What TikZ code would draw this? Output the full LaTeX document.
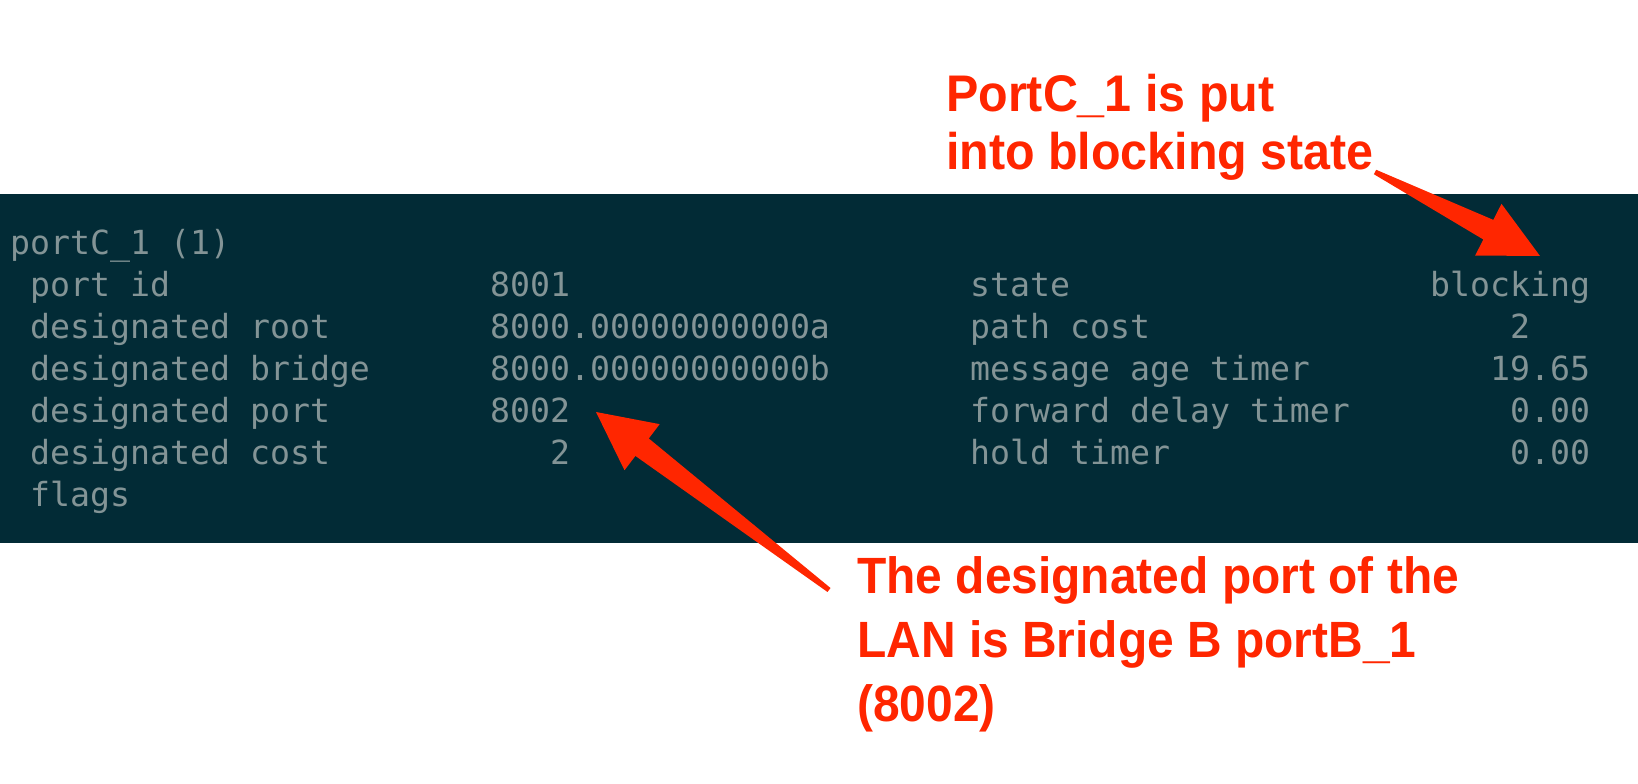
\documentclass[tikz,border=0pt]{standalone}
\usepackage{fontspec}
\usetikzlibrary{calc}
\newfontfamily\termfont{DejaVu Sans Mono}
\newfontfamily\notefont{Liberation Sans}[FakeStretch=0.94]
\definecolor{termbg}{HTML}{022B36}
\definecolor{termfg}{HTML}{839496}
\definecolor{notered}{HTML}{FF2600}

% filled, tapered arrow from #1 to #2
\newcommand{\skitcharrow}[2]{%
  \coordinate (hb) at ($(#2)!58pt!(#1)$);
  \fill[notered] ($(#1)!2.5pt!90:(#2)$) -- ($(hb)!11pt!90:(#2)$) -- ($(hb)!29pt!90:(#2)$)
    -- (#2) -- ($(hb)!29pt!-90:(#2)$) -- ($(hb)!11pt!-90:(#2)$) -- ($(#1)!2.5pt!-90:(#2)$) -- cycle;
}

\begin{document}
\begin{tikzpicture}[x=1pt, y=1pt,
    term/.style = {anchor=base west, inner sep=0pt, text=termfg,
      font=\termfont\fontsize{33.2}{40}\selectfont},
    note/.style = {anchor=north west, inner sep=0pt, align=left, text=notered,
      font=\notefont\bfseries\fontsize{51.5}{58}\selectfont}]
    \useasboundingbox (0,0) rectangle (1638,784);
    \fill[termbg] (0,241) rectangle (1638,590);

    \node[term] (title) at (10,529) {portC\_1 (1)};
    \foreach \n/\y/\lab/\val in {1/487/port id/8001, 2/445/designated root/8000.00000000000a,
        3/403/designated bridge/8000.00000000000b, 4/361/designated port/8002,
        5/319/designated cost/\hphantom{000}2, 6/277/flags/{}} {
      \node[term] (lab\n) at (30,\y) {\lab};
      \node[term] (val\n) at (490,\y) {\val};
    }
    \foreach \n/\y/\lab/\val/\vx in {1/487/state/blocking/1430, 2/445/path cost/2/1510,
        3/403/message age timer/19.65/1490, 4/361/forward delay timer/0.00/1510,
        5/319/hold timer/0.00/1510} {
      \node[term] (rlab\n) at (970,\y) {\lab};
      \node[term] (rval\n) at (\vx,\y) {\val};
    }

    \node[note] (blocknote) at (946,710) {PortC\_1 is put\\into blocking state};
    \node[note, font=\notefont\bfseries\fontsize{51}{64}\selectfont] (dpnote) at (857,228)
      {The designated port of the\\LAN is Bridge B portB\_1\\(8002)};

    \coordinate (tailA) at (1375,612);
    \coordinate (tipA) at (1540,528);
    \coordinate (tailB) at (829,194);
    \coordinate (tipB) at (596,372);
    \skitcharrow{tailA}{tipA}
    \skitcharrow{tailB}{tipB}
\end{tikzpicture}
\end{document}
